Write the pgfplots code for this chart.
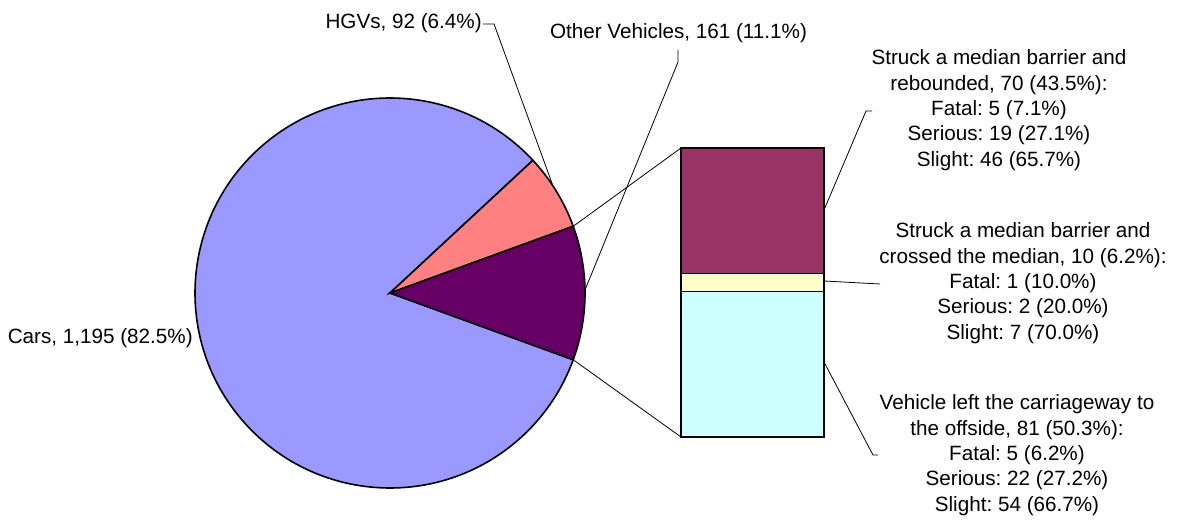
\documentclass[border=0pt]{standalone}
\usepackage{pgfplots}
\pgfplotsset{compat=1.18}
\usepackage{fontspec}
\setmainfont{Liberation Sans}
\frenchspacing
\definecolor{carsc}{HTML}{9999FF}
\definecolor{hgvc}{HTML}{FF8080}
\definecolor{otherc}{HTML}{660066}
\definecolor{reboundc}{HTML}{993366}
\definecolor{crossc}{HTML}{FFFFCC}
\definecolor{offsidec}{HTML}{CCFFFF}
\begin{document}
\begin{tikzpicture}
\def\nCars{1195}\def\nHGV{92}\def\nOther{161}
\pgfmathsetmacro\tot{\nCars+\nHGV+\nOther}
\pgfmathsetmacro\aO{\nOther/\tot*180}
\pgfmathsetmacro\aH{\aO+\nHGV/\tot*360}
\pgfmathsetmacro\aC{\aH+\nCars/\tot*360}
\def\R{146.25pt}
\useasboundingbox (0,0) rectangle (886.5pt,389.25pt);
\tikzset{lbl/.style={font=\fontsize{15.5}{19}\selectfont, align=center, inner sep=0pt}}
\begin{axis}[at={(0,0)}, anchor=south west, width=886.5pt, height=389.25pt,
  scale only axis, xmin=0, xmax=1182, ymin=0, ymax=519, hide axis, clip=false]
\filldraw[fill=carsc, draw=black, line width=1.2pt] (axis cs:390,226) -- ++(\aH:\R) arc[start angle=\aH, end angle=\aC, radius=\R] -- cycle;
\filldraw[fill=hgvc, draw=black, line width=1.2pt] (axis cs:390,226) -- ++(\aO:\R) arc[start angle=\aO, end angle=\aH, radius=\R] -- cycle;
\filldraw[fill=otherc, draw=black, line width=1.2pt] (axis cs:390,226) -- ++(-\aO:\R) arc[start angle=-\aO, end angle=\aO, radius=\R] -- cycle;
% connectors to bar
\draw[line width=0.6pt] (axis cs:390,226) ++(\aO:\R) -- (axis cs:681,371);
\draw[line width=0.6pt] (axis cs:390,226) ++(-\aO:\R) -- (axis cs:681,82);
% leaders
\draw[line width=0.6pt] (axis cs:483,495) -- (axis cs:494,495) -- (axis cs:553,333);
\draw[line width=0.6pt] (axis cs:678,469) -- (axis cs:678,457) -- (axis cs:585,229);
\draw[line width=0.6pt] (axis cs:872,408) -- (axis cs:866,408) -- (axis cs:824,309);
\draw[line width=0.6pt] (axis cs:880,235) -- (axis cs:824,238);
\draw[line width=0.6pt] (axis cs:878,64) -- (axis cs:873,64) -- (axis cs:824,157);
% labels
\node[lbl, anchor=east] at (axis cs:482,496) {HGVs, 92 (6.4\%)};
\node[lbl] at (axis cs:678.5,486) {Other Vehicles, 161 (11.1\%)};
\node[lbl, anchor=east] at (axis cs:193,181) {Cars, 1,195 (82.5\%)};
\node[lbl] at (axis cs:999,409) {Struck a median barrier and\\rebounded, 70 (43.5\%):\\Fatal: 5 (7.1\%)\\Serious: 19 (27.1\%)\\Slight: 46 (65.7\%)};
\node[lbl] at (axis cs:1023,236) {Struck a median barrier and\\crossed the median, 10 (6.2\%):\\Fatal: 1 (10.0\%)\\Serious: 2 (20.0\%)\\Slight: 7 (70.0\%)};
\node[lbl] at (axis cs:1017,64) {Vehicle left the carriageway to\\the offside, 81 (50.3\%):\\Fatal: 5 (6.2\%)\\Serious: 22 (27.2\%)\\Slight: 54 (66.7\%)};
\end{axis}
\begin{axis}[at={(510.75pt,61.5pt)}, anchor=south west, width=107.25pt, height=216.75pt,
  scale only axis, xmin=0, xmax=1, ymin=0, ymax=161, hide axis, clip=false,
  ybar stacked, bar width=107.25pt]
\addplot[fill=offsidec, draw=black, line width=1.2pt] coordinates {(0.5,81)};
\addplot[fill=crossc, draw=black, line width=1.2pt] coordinates {(0.5,10)};
\addplot[fill=reboundc, draw=black, line width=1.2pt] coordinates {(0.5,70)};
\end{axis}
\end{tikzpicture}
\end{document}
